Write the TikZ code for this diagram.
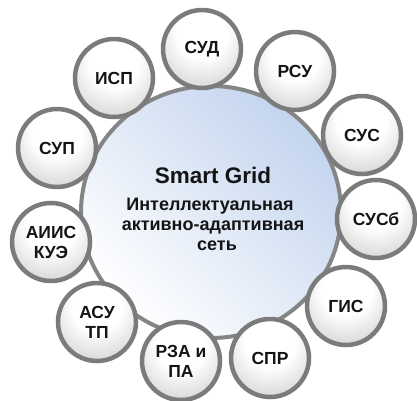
\documentclass[tikz,border=0pt]{standalone}
\usepackage{fontspec}
\setmainfont{Liberation Sans}
\usetikzlibrary{shapes.geometric}
\definecolor{ballgray}{HTML}{7B7B7B}
\definecolor{hubgray}{HTML}{858585}
\definecolor{hubblue}{HTML}{C3D4EE}
\definecolor{txt}{HTML}{141414}
\pgfdeclareradialshading{ballshade}{\pgfpoint{0bp}{12bp}}{color(0bp)=(white); color(16bp)=(white); color(50bp)=(black!30); color(100bp)=(black!30)}
\begin{document}
\begin{tikzpicture}[x=1pt,y=-1pt,
  ball/.style={circle, draw=ballgray, line width=4.5pt, minimum size=78pt,
    inner sep=0pt, shade, shading=ballshade, align=center, text=txt,
    font=\fontsize{17.5}{20}\selectfont\bfseries},
  hubstyle/.style={ellipse, draw=hubgray, line width=4pt, minimum width=260pt,
    minimum height=252pt, inner sep=0pt, top color=hubblue, bottom color=white,
    shading angle=-45},
  bigtxt/.style={anchor=base, inner sep=0pt, text=txt, font=\fontsize{22.5}{26}\selectfont\bfseries},
  midtxt/.style={anchor=base, inner sep=0pt, text=txt, font=\fontsize{18}{20}\selectfont\bfseries}]
\useasboundingbox (0,0) rectangle (417,400);
\node[hubstyle] (hub) at (211,212) {};
\node[bigtxt] (t1) at (213,183) {Smart Grid};
\node[midtxt] (t2) at (210,210) {Интеллектуальная};
\node[midtxt] (t3) at (213,230) {активно-адаптивная};
\node[midtxt] (t4) at (217,250) {сеть};
\node[ball] (sud)  at (202,49)  {СУД};
\node[ball] (rsu)  at (295,71)  {РСУ};
\node[ball] (sus)  at (362,135) {СУС};
\node[ball] (susb) at (376,219) {СУСб};
\node[ball] (gis)  at (346,306) {ГИС};
\node[ball] (spr)  at (270,358) {СПР};
\node[ball] (rza)  at (181,361) {РЗА и\\ПА};
\node[ball] (asu)  at (97,322)  {АСУ\\ТП};
\node[ball] (aiis) at (51,242)  {АИИС\\КУЭ};
\node[ball] (sup)  at (57,148)  {СУП};
\node[ball] (isp)  at (114,78)  {ИСП};
\end{tikzpicture}
\end{document}
